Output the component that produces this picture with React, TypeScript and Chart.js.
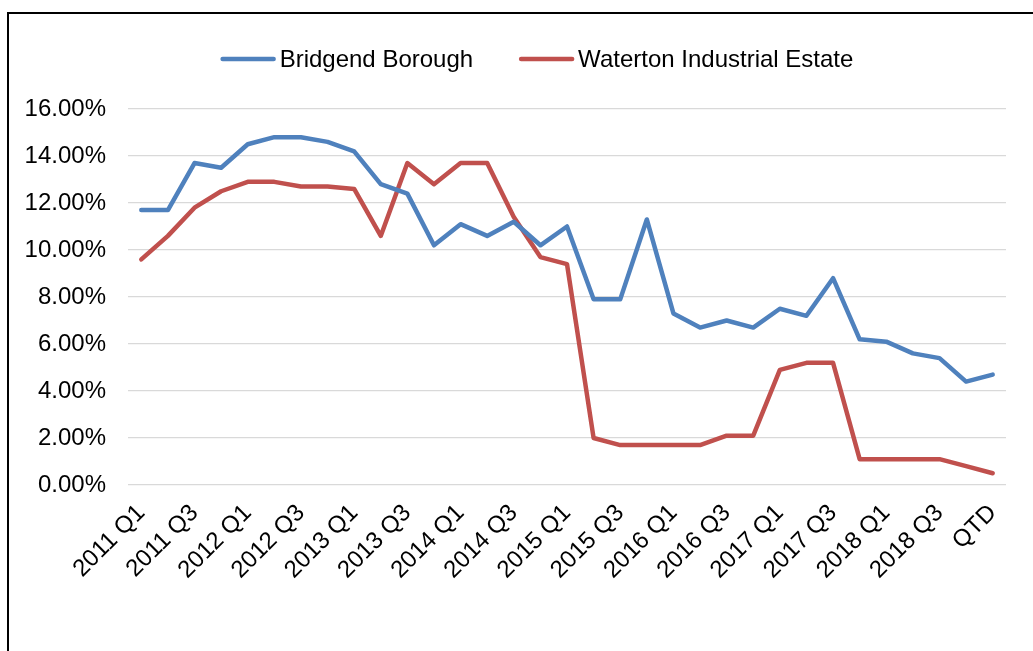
import { useEffect, useRef } from 'react';
import { Chart, registerables } from 'chart.js';

Chart.register(...registerables);

const categories = [
  '2011 Q1', '2011 Q2', '2011 Q3', '2011 Q4',
  '2012 Q1', '2012 Q2', '2012 Q3', '2012 Q4',
  '2013 Q1', '2013 Q2', '2013 Q3', '2013 Q4',
  '2014 Q1', '2014 Q2', '2014 Q3', '2014 Q4',
  '2015 Q1', '2015 Q2', '2015 Q3', '2015 Q4',
  '2016 Q1', '2016 Q2', '2016 Q3', '2016 Q4',
  '2017 Q1', '2017 Q2', '2017 Q3', '2017 Q4',
  '2018 Q1', '2018 Q2', '2018 Q3', '2018 Q4',
  'QTD',
];

const bridgendBorough = [
  11.7, 11.7, 13.7, 13.5, 14.5, 14.8, 14.8, 14.6,
  14.2, 12.8, 12.4, 10.2, 11.1, 10.6, 11.2, 10.2,
  11.0, 7.9, 7.9, 11.3, 7.3, 6.7, 7.0, 6.7,
  7.5, 7.2, 8.8, 6.2, 6.1, 5.6, 5.4, 4.4,
  4.7,
];

const watertonIndustrialEstate = [
  9.6, 10.6, 11.8, 12.5, 12.9, 12.9, 12.7, 12.7,
  12.6, 10.6, 13.7, 12.8, 13.7, 13.7, 11.4, 9.7,
  9.4, 2.0, 1.7, 1.7, 1.7, 1.7, 2.1, 2.1,
  4.9, 5.2, 5.2, 1.1, 1.1, 1.1, 1.1, 0.8,
  0.5,
];

const seriesNames = ['Bridgend Borough', 'Waterton Industrial Estate'];
const seriesColors = ['#4F81BD', '#C0504D'];

const FONT_FAMILY = '"Liberation Sans", Arial, Helvetica, sans-serif';

const legendPlugin = {
  id: 'excelLegend',
  afterDraw(chart: any) {
    const ctx = chart.ctx;
    ctx.save();
    ctx.font = `24px ${FONT_FAMILY}`;
    ctx.textBaseline = 'alphabetic';
    ctx.textAlign = 'left';
    const sample = 55;
    const gap = 4;
    const spacing = 46;
    const items = chart.data.datasets.map((ds: any) => ({
      text: ds.label,
      color: ds.borderColor,
      w: ctx.measureText(ds.label).width,
    }));
    const total =
      items.reduce((s: number, it: any) => s + sample + gap + it.w, 0) +
      spacing * (items.length - 1);
    let x = 537 - total / 2;
    const yLine = 59;
    const yText = 67;
    items.forEach((it: any) => {
      ctx.strokeStyle = it.color;
      ctx.lineWidth = 4.5;
      ctx.lineCap = 'round';
      ctx.beginPath();
      ctx.moveTo(x + 2, yLine);
      ctx.lineTo(x + sample - 2, yLine);
      ctx.stroke();
      ctx.fillStyle = '#000000';
      ctx.fillText(it.text, x + sample + gap, yText);
      x += sample + gap + it.w + spacing;
    });
    ctx.restore();
  },
};

export default function App() {
  const canvasRef = useRef<HTMLCanvasElement | null>(null);

  useEffect(() => {
    document.body.style.margin = '0';
    const canvas = canvasRef.current;
    if (!canvas) return;
    const chart = new Chart(canvas, {
      type: 'line',
      data: {
        labels: categories,
        datasets: [
          {
            label: seriesNames[0],
            data: bridgendBorough,
            borderColor: seriesColors[0],
            backgroundColor: seriesColors[0],
            borderWidth: 4.5,
            pointRadius: 0,
            pointHoverRadius: 0,
            tension: 0,
            borderJoinStyle: 'round',
            borderCapStyle: 'round',
            fill: false,
          },
          {
            label: seriesNames[1],
            data: watertonIndustrialEstate,
            borderColor: seriesColors[1],
            backgroundColor: seriesColors[1],
            borderWidth: 4.5,
            pointRadius: 0,
            pointHoverRadius: 0,
            tension: 0,
            borderJoinStyle: 'round',
            borderCapStyle: 'round',
            fill: false,
          },
        ],
      },
      options: {
        animation: false,
        responsive: false,
        maintainAspectRatio: false,
        layout: { padding: { top: 109, right: 27, left: 0, bottom: 0 } },
        plugins: {
          legend: { display: false },
          tooltip: { enabled: false },
        },
        scales: {
          x: {
            type: 'category',
            offset: true,
            grid: { display: false, drawTicks: false },
            border: { display: false },
            ticks: {
              autoSkip: false,
              maxRotation: 45,
              minRotation: 45,
              padding: 14,
              color: '#000000',
              font: { family: FONT_FAMILY, size: 24 },
              callback: (_v: any, i: number) => (i % 2 === 0 ? categories[i] : ''),
            },
            afterFit: (scale: any) => {
              scale.height = 651 - 485;
            },
          },
          y: {
            min: 0,
            max: 16,
            grid: { color: '#D9D9D9', lineWidth: 1.3, drawTicks: false },
            border: { display: false },
            ticks: {
              stepSize: 2,
              padding: 22,
              color: '#000000',
              font: { family: FONT_FAMILY, size: 24 },
              callback: (v: any) => Number(v).toFixed(2) + '%',
            },
            afterFit: (scale: any) => {
              scale.width = 128;
            },
          },
        },
      },
      plugins: [legendPlugin],
    });
    return () => chart.destroy();
  }, []);

  return (
    <div
      style={{
        position: 'absolute',
        left: 0,
        top: 0,
        width: 1033,
        height: 651,
        overflow: 'hidden',
        background: '#ffffff',
      }}
    >
      <div
        style={{
          position: 'absolute',
          left: 7,
          top: 12,
          width: 1100,
          height: 700,
          border: '2px solid #000000',
          boxSizing: 'border-box',
        }}
      />
      <canvas
        ref={canvasRef}
        width={1033}
        height={651}
        style={{ position: 'absolute', left: 0, top: 0, width: 1033, height: 651 }}
      />
    </div>
  );
}
